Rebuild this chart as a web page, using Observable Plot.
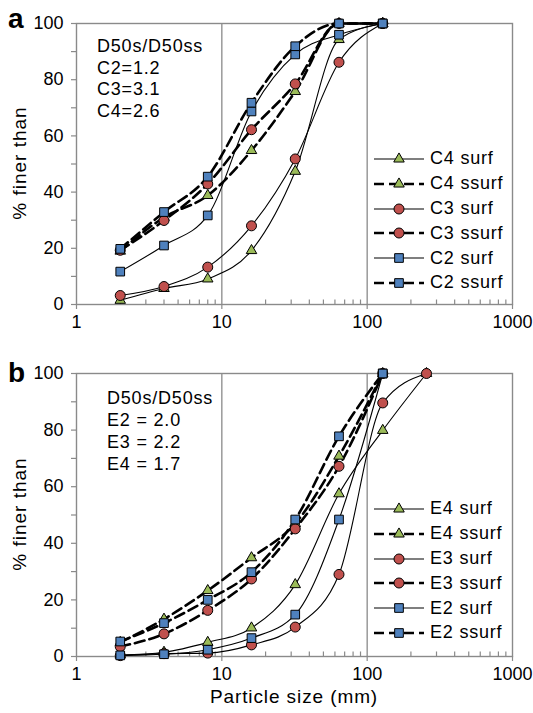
<!DOCTYPE html>
<html><head><meta charset="utf-8">
<script src="https://cdn.jsdelivr.net/npm/d3@7"></script>
<script src="https://cdn.jsdelivr.net/npm/@observablehq/plot@0.6"></script>
<style>
body{margin:0;background:#fff;font-family:"Liberation Sans",Arial,sans-serif;color:#000;}
#wrap{position:relative;width:533px;height:713px;overflow:hidden;}
.panel{position:absolute;left:0;}
.letter{position:absolute;font-weight:bold;font-size:28px;line-height:28px;}
.note{position:absolute;font-size:18px;letter-spacing:0.8px;white-space:nowrap;}
.legend{position:absolute;font-size:18px;letter-spacing:0.8px;white-space:nowrap;}
.legend .row{display:flex;align-items:center;height:24.8px;}
.legend svg{display:block;margin-right:5px;overflow:visible;}
.ylab{position:absolute;width:200px;height:24px;line-height:24px;text-align:center;font-size:19px;letter-spacing:1px;transform:rotate(-90deg);white-space:nowrap;}
.xlab{position:absolute;width:300px;text-align:center;font-size:19px;letter-spacing:0.9px;white-space:nowrap;}
</style></head>
<body><div id="wrap"></div>
<script>
// ---- data: panel a (C sites) ----
const sizesA  = [2, 4, 8, 16, 32, 64, 128];
const c4Surf  = [1.5, 5.7, 9.1, 19.2, 47.4, 94.3, 100];
const c4Ssurf = [19, 31, 38.8, 54.8, 75.8, 100, 100];
const c3Surf  = [3.2, 6.4, 13.3, 28, 51.8, 86.2, 100];
const c3Ssurf = [19.3, 29.9, 42.9, 62.2, 78.5, 100, 100];
const c2Surf  = [11.7, 21, 31.7, 68.7, 89, 96, 100];
const c2Ssurf = [19.8, 32.9, 45.5, 71.8, 91.9, 100, 100];

// ---- data: panel b (E sites) ----
const sizesB  = [2, 4, 8, 16, 32, 64, 128, 256];
const e4Surf  = [0.5, 1.5, 5, 10.1, 25.4, 57.5, 79.9, 100];
const e4Ssurf = [5, 13.2, 23.3, 34.9, 47, 70.8, 100];
const e3Surf  = [0.3, 1, 1.2, 4.1, 10.4, 29, 89.6, 100];
const e3Ssurf = [3.5, 8, 16.3, 27.4, 45.1, 67.2, 100];
const e2Surf  = [0.4, 0.8, 2.4, 6.5, 14.8, 48.4, 100];
const e2Ssurf = [5.3, 11.8, 20, 29.8, 48.4, 77.8, 100];

// ---- ticks & labels ----
const xTicks = [1, 10, 100, 1000];
const xMinor = [2,3,4,5,6,7,8,9,20,30,40,50,60,70,80,90,200,300,400,500,600,700,800,900];
const yTicks = [0, 10, 20, 30, 40, 50, 60, 70, 80, 90, 100];
const xGrid = [10, 100];
const notesA = ["D50s/D50ss", "C2=1.2", "C3=3.1", "C4=2.6"];
const notesB = ["D50s/D50ss", "E2 = 2.0", "E3 = 2.2", "E4 = 1.7"];
const yTitle = "% finer than";
const xTitle = "Particle size (mm)";

const GREEN = "#9BBB59", RED = "#C0504D", BLUE = "#4F81BD", GRID = "#8a8a8a";
const sym = {triangle: {symbol: "triangle", r: 3.9, fill: GREEN},
             circle: {symbol: "circle", r: 5, fill: RED},
             square: {symbol: "square", r: 4.9, fill: BLUE}};

function series(name, xs, ys, kind, dashed) {
  return {name, kind, dashed, rows: ys.map((v, i) => ({x: xs[i], y: v}))};
}
const seriesA = [
  series("C4 surf", sizesA, c4Surf, "triangle", false),
  series("C4 ssurf", sizesA, c4Ssurf, "triangle", true),
  series("C3 surf", sizesA, c3Surf, "circle", false),
  series("C3 ssurf", sizesA, c3Ssurf, "circle", true),
  series("C2 surf", sizesA, c2Surf, "square", false),
  series("C2 ssurf", sizesA, c2Ssurf, "square", true)
];
const seriesB = [
  series("E4 surf", sizesB, e4Surf, "triangle", false),
  series("E4 ssurf", sizesB, e4Ssurf, "triangle", true),
  series("E3 surf", sizesB, e3Surf, "circle", false),
  series("E3 ssurf", sizesB, e3Ssurf, "circle", true),
  series("E2 surf", sizesB, e2Surf, "square", false),
  series("E2 ssurf", sizesB, e2Ssurf, "square", true)
];

const DASH = "10,5";
function panel(ser, height, marginTop, marginBottom) {
  const lines = ser.map(s => Plot.line(s.rows, {
    x: "x", y: "y", curve: "monotone-x",
    stroke: "#000", strokeWidth: s.dashed ? 2.6 : 1.1,
    strokeDasharray: s.dashed ? DASH : null
  }));
  const dots = ser.map(s => Plot.dot(s.rows, {
    x: "x", y: "y", symbol: sym[s.kind].symbol, r: sym[s.kind].r,
    fill: sym[s.kind].fill, stroke: "#000", strokeWidth: 1
  }));
  return Plot.plot({
    width: 533, height, marginLeft: 76, marginRight: 21, marginTop, marginBottom,
    style: {fontFamily: "Liberation Sans, Arial, sans-serif", fontSize: "18px", color: "#000", background: "transparent", overflow: "visible"},
    x: {type: "log", domain: [1, 1000]},
    y: {domain: [0, 100]},
    marks: [
      Plot.ruleX(xGrid, {stroke: GRID, strokeWidth: 1.3}),
      Plot.ruleX(xMinor, {x: d => d, y1: 0, y2: 1.6, stroke: GRID, strokeWidth: 1.2}),
      Plot.axisX({ticks: xTicks, tickFormat: d => String(d), tickSize: 5, tickPadding: 6, stroke: GRID, strokeWidth: 1.2, label: null, fontSize: 18}),
      Plot.axisY({ticks: yTicks, tickFormat: d => (d % 20 === 0 ? String(d) : ""), tickSize: 5, tickPadding: 8, stroke: GRID, strokeWidth: 1.2, label: null, fontSize: 18}),
      Plot.frame({stroke: GRID, strokeWidth: 1.4}),
      ...lines,
      ...dots
    ]
  });
}

const wrap = document.getElementById("wrap");
function add(el, css) { Object.assign(el.style, css); wrap.appendChild(el); return el; }

const pa = panel(seriesA, 340, 23, 36);
const pb = panel(seriesB, 373, 33, 57);
const da = document.createElement("div"); da.className = "panel"; da.appendChild(pa); add(da, {top: "0px"});
const db = document.createElement("div"); db.className = "panel"; db.appendChild(pb); add(db, {top: "340px"});

function text(cls, str, css) { const d = document.createElement("div"); d.className = cls; d.textContent = str; return add(d, css); }
text("letter", "a", {left: "8px", top: "5px"});
text("letter", "b", {left: "8px", top: "359px"});
text("ylab", yTitle, {left: "-80px", top: "151px"});
text("ylab", yTitle, {left: "-80px", top: "502px"});
text("xlab", xTitle, {left: "144px", top: "686px"});

function notes(lines, left, top, lh) {
  const d = document.createElement("div"); d.className = "note";
  d.innerHTML = lines.map(l => `<div style="height:${lh}px;line-height:${lh}px">${l}</div>`).join("");
  add(d, {left: left + "px", top: top + "px"});
}
notes(notesA, 97, 36, 21.6);
notes(notesB, 107, 387, 22);

function legend(ser, left, top) {
  const d = document.createElement("div"); d.className = "legend";
  for (const s of ser) {
    const row = document.createElement("div"); row.className = "row";
    const svg = d3.create("svg").attr("width", 52).attr("height", 20);
    svg.append("line").attr("x1", 1).attr("x2", 51).attr("y1", 10).attr("y2", 10)
      .attr("stroke", "#000").attr("stroke-width", s.dashed ? 2.6 : 1.1)
      .attr("stroke-dasharray", s.dashed ? DASH : null);
    const k = sym[s.kind];
    const shape = {triangle: d3.symbolTriangle, circle: d3.symbolCircle, square: d3.symbolSquare}[s.kind];
    const size = Math.PI * k.r * k.r;
    svg.append("path").attr("transform", "translate(26,10)").attr("d", d3.symbol(shape, size)())
      .attr("fill", k.fill).attr("stroke", "#000").attr("stroke-width", 1);
    row.appendChild(svg.node());
    const t = document.createElement("span"); t.textContent = s.name; row.appendChild(t);
    d.appendChild(row);
  }
  add(d, {left: left + "px", top: top + "px"});
}
legend(seriesA, 373, 146.6);
legend(seriesB, 373, 496.6);
</script>
</body></html>
